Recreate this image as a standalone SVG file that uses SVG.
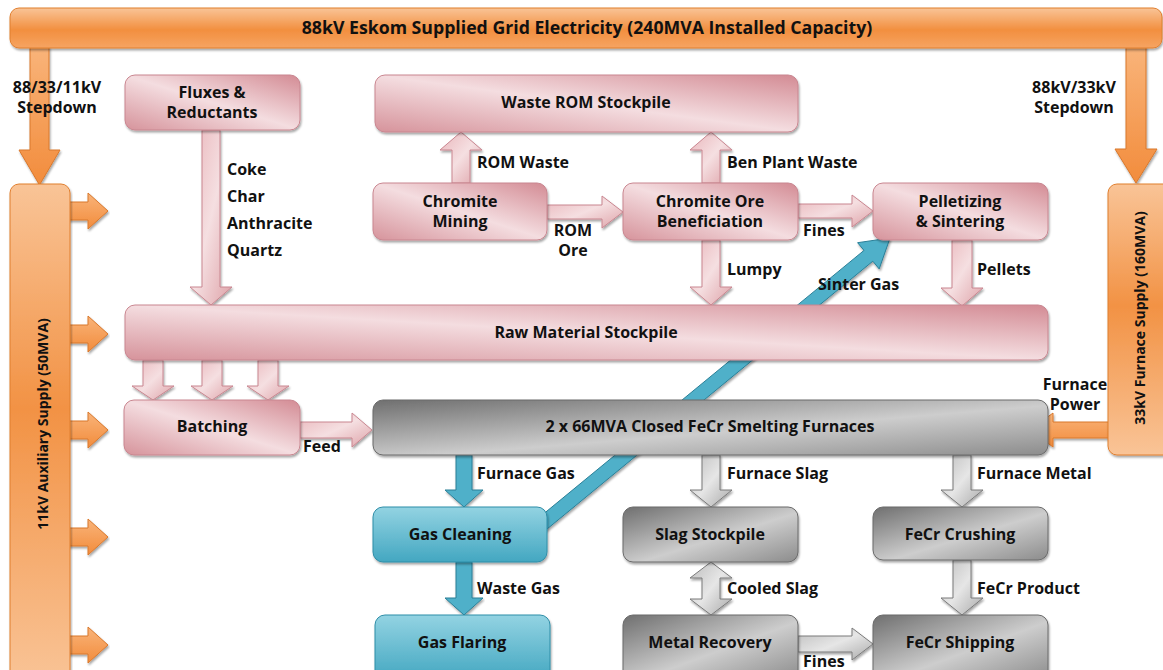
<svg xmlns="http://www.w3.org/2000/svg" width="1163" height="670" viewBox="0 0 1163 670">
<defs>
<linearGradient id="gPink" x1="1" y1="0" x2="0" y2="1">
<stop offset="0" stop-color="#d38b94"/><stop offset="0.5" stop-color="#f4dde0"/><stop offset="1" stop-color="#d6939b"/>
</linearGradient>
<linearGradient id="gGray" x1="0" y1="0" x2="1" y2="1">
<stop offset="0" stop-color="#6f6f6f"/><stop offset="0.55" stop-color="#cdcdcd"/><stop offset="1" stop-color="#8c8c8c"/>
</linearGradient>
<linearGradient id="gBlue" x1="0" y1="0" x2="0" y2="1">
<stop offset="0" stop-color="#93d3e2"/><stop offset="1" stop-color="#43a7c1"/>
</linearGradient>
<linearGradient id="gOrH" x1="0" y1="0" x2="0" y2="1">
<stop offset="0" stop-color="#f9c497"/><stop offset="0.55" stop-color="#f28f3f"/><stop offset="1" stop-color="#f6a462"/>
</linearGradient>
<linearGradient id="gOrV" x1="0" y1="0" x2="0" y2="1">
<stop offset="0" stop-color="#f9c497"/><stop offset="0.45" stop-color="#f29244"/><stop offset="1" stop-color="#f9c497"/>
</linearGradient>
<linearGradient id="gArrPink" x1="0" y1="0" x2="1" y2="1">
<stop offset="0" stop-color="#e9b6bb"/><stop offset="0.5" stop-color="#f5dfe1"/><stop offset="1" stop-color="#dea2a8"/>
</linearGradient>
<linearGradient id="gArrGray" x1="0" y1="0" x2="1" y2="1">
<stop offset="0" stop-color="#bdbdbd"/><stop offset="0.5" stop-color="#e6e6e6"/><stop offset="1" stop-color="#a9a9a9"/>
</linearGradient>
<linearGradient id="gArrOr" x1="0" y1="0" x2="0" y2="1">
<stop offset="0" stop-color="#f9b47a"/><stop offset="1" stop-color="#f28c3c"/>
</linearGradient>
<filter id="sh" x="-5%" y="-10%" width="110%" height="130%">
<feDropShadow dx="1" dy="2" stdDeviation="1" flood-color="#000" flood-opacity="0.35"/>
</filter>
</defs>
<style>
text{font-family:"Open Sans","Lato","Liberation Sans",sans-serif;font-weight:bold;fill:#111;}
.n{font-size:16px;text-anchor:middle;}
.l{font-size:16px;}
.c{font-size:16px;text-anchor:middle;}
.pink{fill:url(#gPink);stroke:#c98690;stroke-width:1;filter:url(#sh);}
.gray{fill:url(#gGray);stroke:#6a6a6a;stroke-width:1;filter:url(#sh);}
.blue{fill:url(#gBlue);stroke:#2f8ea8;stroke-width:1;filter:url(#sh);}
.ap{fill:url(#gArrPink);stroke:#c98690;stroke-width:1;filter:url(#sh);}
.ag{fill:url(#gArrGray);stroke:#7a7a7a;stroke-width:1;filter:url(#sh);}
.ab{fill:#4fb0c9;stroke:#2a7f97;stroke-width:1;filter:url(#sh);}
.ao{fill:url(#gArrOr);stroke:#d9782c;stroke-width:1;filter:url(#sh);}
</style>
<rect width="1163" height="670" fill="#fff"/>

<g id="connectors">
<!-- Sinter gas diagonal (behind boxes) -->
<polygon class="ab" points="534.9,521 864,250.4 857.6,242.7 890,238 879.2,268.9 872.8,261.2 543.7,531.8"/>
<!-- orange stepdowns -->
<polygon class="ao" points="30,46 49,46 49,150 60,150 39.5,185 19,150 30,150"/>
<polygon class="ao" points="1126,46 1146,46 1146,149 1157,149 1136,183 1115,149 1126,149"/>
<!-- auxiliary supply arrows -->
<polygon class="ao" points="68,202 88,202 88,193 108,211 88,229 88,220 68,220"/>
<polygon class="ao" points="68,325 88,325 88,316 108,334 88,352 88,343 68,343"/>
<polygon class="ao" points="68,421 88,421 88,412 108,430 88,448 88,439 68,439"/>
<polygon class="ao" points="68,528 88,528 88,519 108,537 88,555 88,546 68,546"/>
<polygon class="ao" points="68,636 88,636 88,627 108,645 88,663 88,654 68,654"/>
<!-- furnace power -->
<polygon class="ao" points="1110,422 1053,422 1053,413 1030,430 1053,447 1053,438 1110,438"/>
<!-- pink arrows -->
<polygon class="ap" points="202,130 220,130 220,287 232,287 211,305 190,287 202,287"/>
<polygon class="ap" points="143,360 163,360 163,386 174,386 153,400 132,386 143,386"/>
<polygon class="ap" points="202,360 222,360 222,386 233,386 212,400 191,386 202,386"/>
<polygon class="ap" points="258,360 278,360 278,386 289,386 268,400 247,386 258,386"/>
<polygon class="ap" points="452,183 470,183 470,150 482,150 461,132 440,150 452,150"/>
<polygon class="ap" points="702,183 720,183 720,150 732,150 711,132 690,150 702,150"/>
<polygon class="ap" points="702,240 720,240 720,287 732,287 711,305 690,287 702,287"/>
<polygon class="ap" points="952,240 972,240 972,288 983,288 962,306 941,288 952,288"/>
<polygon class="ap" points="547,205 602,205 602,196 623,212 602,228 602,219 547,219"/>
<polygon class="ap" points="798,204 852,204 852,195 873,211 852,227 852,218 798,218"/>
<polygon class="ap" points="300,422 352,422 352,413 372,430 352,447 352,438 300,438"/>
<!-- blue arrows -->
<polygon class="ab" points="456,455 472,455 472,490 483,490 464,507 445,490 456,490"/>
<polygon class="ab" points="456,562 472,562 472,598 483,598 464,615 445,598 456,598"/>
<!-- gray arrows -->
<polygon class="ag" points="702,455 720,455 720,490 732,490 711,507 690,490 702,490"/>
<polygon class="ag" points="702,578 690,578 711,562 732,578 720,578 720,599 732,599 711,615 690,599 702,599"/>
<polygon class="ag" points="953,455 971,455 971,490 983,490 962,507 941,490 953,490"/>
<polygon class="ag" points="953,560 971,560 971,598 983,598 962,615 941,598 953,598"/>
<polygon class="ag" points="798,636 852,636 852,628 873,644 852,660 852,652 798,652"/>
</g>

<g id="grid">
<rect x="10" y="8" width="1152" height="40" rx="9" fill="url(#gOrH)" stroke="#e07f2f" filter="url(#sh)"/>
<text x="587" y="34" class="n" style="font-size:17.7px">88kV Eskom Supplied Grid Electricity (240MVA Installed Capacity)</text>
</g>
<g id="aux-supply">
<rect x="10" y="184" width="60" height="500" rx="9" fill="url(#gOrV)" stroke="#e07f2f" filter="url(#sh)"/>
<text transform="translate(48,424) rotate(-90)" class="n" style="font-size:14px">11kV Auxiliary Supply (50MVA)</text>
</g>
<g id="furnace-supply">
<rect x="1108" y="184" width="64" height="271" rx="9" fill="url(#gOrV)" stroke="#e07f2f" filter="url(#sh)"/>
<text transform="translate(1145,318) rotate(-90)" class="n" style="font-size:14px">33kV Furnace Supply (160MVA)</text>
</g>

<g id="fluxes"><rect class="pink" x="125" y="75" width="175" height="55" rx="10"/>
<text class="n" x="212" y="98">Fluxes &amp;</text><text class="n" x="212" y="118">Reductants</text></g>
<g id="waste-rom"><rect class="pink" x="375" y="75" width="423" height="57" rx="10"/>
<text class="n" x="586" y="108">Waste ROM Stockpile</text></g>
<g id="mining"><rect class="pink" x="373" y="183" width="174" height="57" rx="10"/>
<text class="n" x="460" y="207">Chromite</text><text class="n" x="460" y="227">Mining</text></g>
<g id="beneficiation"><rect class="pink" x="623" y="183" width="175" height="57" rx="10"/>
<text class="n" x="710" y="207">Chromite Ore</text><text class="n" x="710" y="227">Beneficiation</text></g>
<g id="pelletizing"><rect class="pink" x="873" y="183" width="175" height="57" rx="10"/>
<text class="n" x="960" y="207">Pelletizing</text><text class="n" x="960" y="227">&amp; Sintering</text></g>
<g id="raw-material"><rect class="pink" x="125" y="305" width="923" height="55" rx="10"/>
<text class="n" x="586" y="338">Raw Material Stockpile</text></g>
<g id="batching"><rect class="pink" x="124" y="400" width="176" height="55" rx="10"/>
<text class="n" x="212" y="432">Batching</text></g>
<g id="furnaces"><rect class="gray" x="373" y="400" width="675" height="55" rx="10"/>
<text class="n" x="710" y="432">2 x 66MVA Closed FeCr Smelting Furnaces</text></g>
<g id="gas-cleaning"><rect class="blue" x="373" y="507" width="174" height="55" rx="10"/>
<text class="n" x="460" y="540">Gas Cleaning</text></g>
<g id="gas-flaring"><rect class="blue" x="375" y="615" width="175" height="65" rx="10"/>
<text class="n" x="462" y="648">Gas Flaring</text></g>
<g id="slag-stockpile"><rect class="gray" x="623" y="507" width="175" height="55" rx="10"/>
<text class="n" x="710" y="540">Slag Stockpile</text></g>
<g id="metal-recovery"><rect class="gray" x="623" y="615" width="175" height="65" rx="10"/>
<text class="n" x="710" y="648">Metal Recovery</text></g>
<g id="fecr-crushing"><rect class="gray" x="873" y="507" width="175" height="53" rx="10"/>
<text class="n" x="960" y="540">FeCr Crushing</text></g>
<g id="fecr-shipping"><rect class="gray" x="873" y="615" width="175" height="65" rx="10"/>
<text class="n" x="960" y="648">FeCr Shipping</text></g>

<g id="labels">
<text class="c" x="57" y="93">88/33/11kV</text><text class="c" x="57" y="113">Stepdown</text>
<text class="c" x="1074" y="93">88kV/33kV</text><text class="c" x="1074" y="113">Stepdown</text>
<text class="l" x="227" y="175">Coke</text>
<text class="l" x="227" y="202">Char</text>
<text class="l" x="227" y="229">Anthracite</text>
<text class="l" x="227" y="256">Quartz</text>
<text class="l" x="477" y="168">ROM Waste</text>
<text class="l" x="727" y="168">Ben Plant Waste</text>
<text class="c" x="573" y="236">ROM</text><text class="c" x="573" y="256">Ore</text>
<text class="l" x="803" y="236">Fines</text>
<text class="l" x="727" y="275">Lumpy</text>
<text class="l" x="977" y="275">Pellets</text>
<text class="l" x="818" y="290">Sinter Gas</text>
<text class="l" x="303" y="452">Feed</text>
<text class="c" x="1075" y="390">Furnace</text><text class="c" x="1075" y="410">Power</text>
<text class="l" x="477" y="479">Furnace Gas</text>
<text class="l" x="727" y="479">Furnace Slag</text>
<text class="l" x="977" y="479">Furnace Metal</text>
<text class="l" x="477" y="594">Waste Gas</text>
<text class="l" x="727" y="594">Cooled Slag</text>
<text class="l" x="977" y="594">FeCr Product</text>
<text class="l" x="803" y="667">Fines</text>
</g>
</svg>
